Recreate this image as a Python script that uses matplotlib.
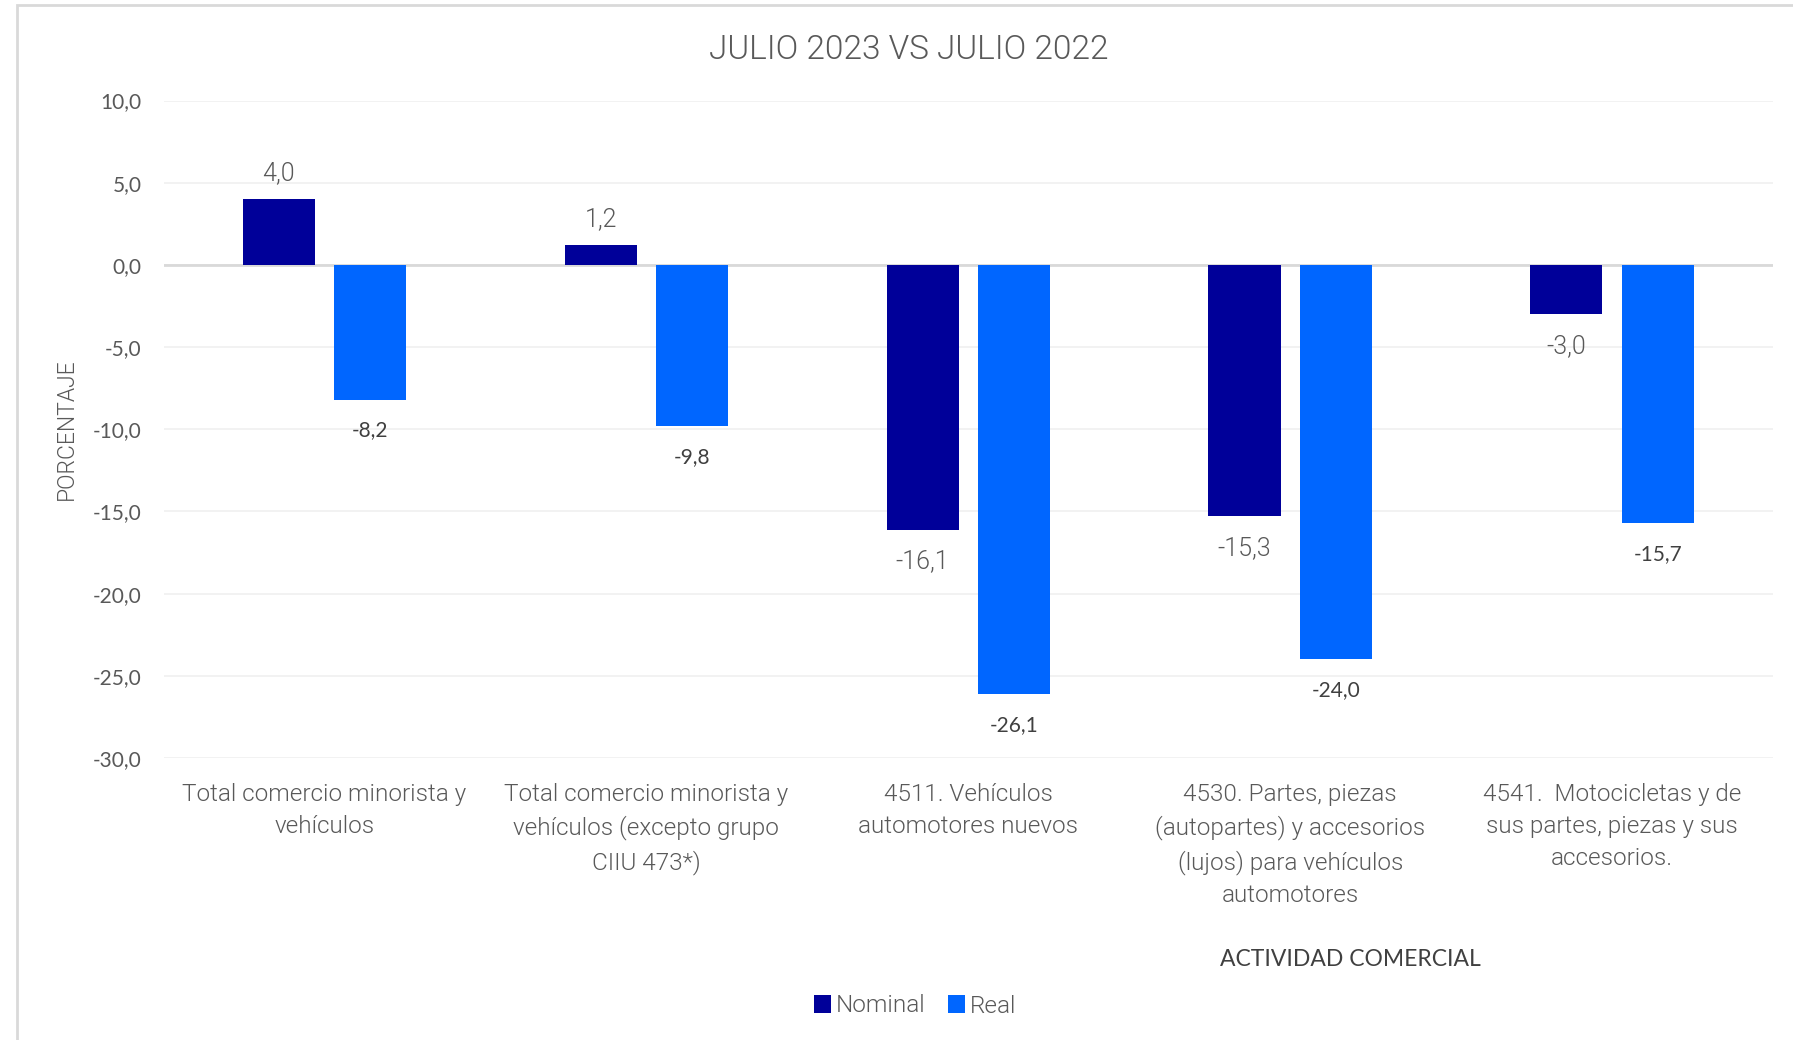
import matplotlib.pyplot as plt
import numpy as np
from matplotlib.patches import Rectangle

categorias = [
    "Total comercio minorista y\nvehículos",
    "Total comercio minorista y\nvehículos (excepto grupo\nCIIU 473*)",
    "4511. Vehículos\nautomotores nuevos",
    "4530. Partes, piezas\n(autopartes) y accesorios\n(lujos) para vehículos\nautomotores",
    "4541.  Motocicletas y de\nsus partes, piezas y sus\naccesorios.",
]
nominal = [4.0, 1.2, -16.1, -15.3, -3.0]
real = [-8.2, -9.8, -26.1, -24.0, -15.7]
y_ticks = [10, 5, 0, -5, -10, -15, -20, -25, -30]

COL_NOM = "#000099"
COL_REAL = "#0066FF"
GRIS = "#595959"
FONT = "Lato"          # texto normal
LIGHT = "Roboto"       # texto ligero
LW = 300


def fmt(v):
    return f"{v:.1f}".replace(".", ",")


fig = plt.figure(figsize=(17.93, 10.4), dpi=100)
# marco gris (solo borde izquierdo y superior visibles)
fig.patches.append(Rectangle((17 / 1793, -0.05), 1.1, 1 - 5 / 1040 + 0.05,
                             transform=fig.transFigure, fill=False,
                             edgecolor="#d9d9d9", lw=2))

ax = fig.add_axes([0.0912, 0.2712, 0.8977, 0.6321])
x = np.arange(len(categorias))
w = 0.224
off = 0.142
b1 = ax.bar(x - off, nominal, w, color=COL_NOM, label="Nominal", zorder=3)
b2 = ax.bar(x + off, real, w, color=COL_REAL, label="Real", zorder=3)

ax.set_xlim(-0.5, len(categorias) - 0.5)
ax.set_ylim(-30, 10)
ax.set_yticks(y_ticks)
ax.set_yticklabels([fmt(v) for v in y_ticks], fontfamily=FONT, fontsize=15, color=GRIS)
ax.set_xticks(x)
ax.set_xticklabels(categorias, fontfamily=LIGHT, fontweight=LW, fontsize=17.5,
                   color=GRIS, linespacing=1.5)
ax.tick_params(axis="both", length=0)
ax.tick_params(axis="y", pad=16)
ax.tick_params(axis="x", pad=18)
for s in ax.spines.values():
    s.set_visible(False)
ax.grid(axis="y", color="#f0f0f0", lw=1.2, zorder=0)
ax.axhline(0, color="#d9d9d9", lw=2, zorder=2)

for rect, v in zip(b1, nominal):
    cx = rect.get_x() + rect.get_width() / 2
    if v >= 0:
        ax.annotate(fmt(v), (cx, v), xytext=(0, 10), textcoords="offset points",
                    ha="center", va="bottom", fontfamily=LIGHT, fontweight=LW,
                    fontsize=18, color=GRIS)
    else:
        ax.annotate(fmt(v), (cx, v), xytext=(0, -14), textcoords="offset points",
                    ha="center", va="top", fontfamily=LIGHT, fontweight=LW,
                    fontsize=18, color=GRIS)
for rect, v in zip(b2, real):
    cx = rect.get_x() + rect.get_width() / 2
    ax.annotate(fmt(v), (cx, v), xytext=(0, -15), textcoords="offset points",
                ha="center", va="top", fontfamily=FONT, fontsize=15, color="#404040")

fig.text(909 / 1793, 1 - 50 / 1040, "JULIO 2023 VS JULIO 2022", ha="center", va="center",
         fontfamily=LIGHT, fontweight=LW, fontsize=24, color=GRIS)
fig.text(66 / 1793, 1 - 429 / 1040, "PORCENTAJE", rotation=90, ha="center", va="center",
         fontfamily=LIGHT, fontweight=LW, fontsize=16.5, color=GRIS)
fig.text(1350 / 1793, 1 - 959 / 1040, "ACTIVIDAD COMERCIAL", ha="center", va="center",
         fontfamily=FONT, fontsize=16.5, color="#404040")

fig.legend(handles=[b1, b2], labels=["Nominal", "Real"], loc="center",
           bbox_to_anchor=(915 / 1793, 1 - 1006 / 1040), ncol=2, frameon=False,
           prop={"family": LIGHT, "weight": LW, "size": 17.5},
           handlelength=0.7, handleheight=0.7, handletextpad=0.2, columnspacing=0.9,
           labelcolor=GRIS)

fig.savefig("out.png", dpi=100, facecolor="white")
